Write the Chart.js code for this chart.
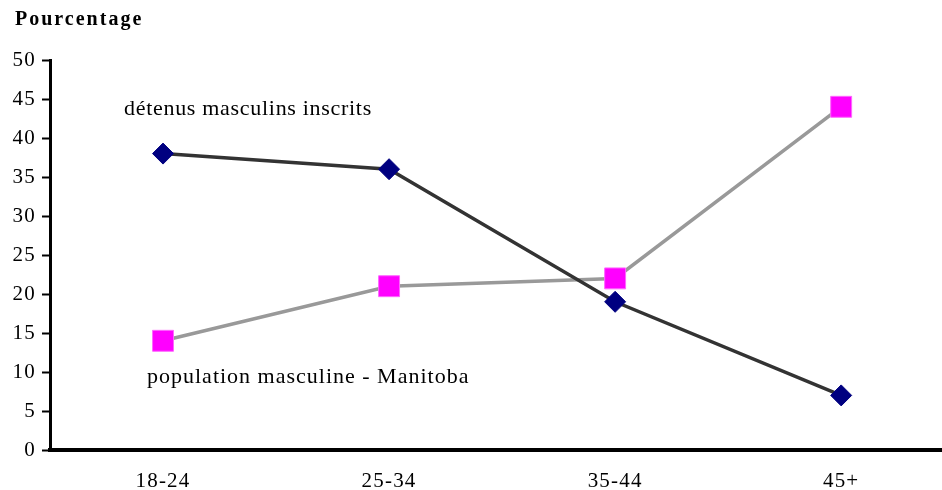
<!DOCTYPE html>
<html>
<head>
<meta charset="utf-8">
<script src="https://cdn.jsdelivr.net/npm/chart.js@4"></script>
<style>
  html, body { margin: 0; padding: 0; background: #fff; overflow: hidden; }
  #wrap { width: 942px; height: 490px; overflow: hidden; }
</style>
</head>
<body>
<div id="wrap"><canvas id="c" width="970" height="490"></canvas></div>
<script>
const categories = ['18-24', '25-34', '35-44', '45+'];
const inmates = [38, 36, 19, 7];          // détenus masculins inscrits
const population = [14, 21, 22, 44];      // population masculine - Manitoba
const yTicks = [0, 5, 10, 15, 20, 25, 30, 35, 40, 45, 50];

const SERIF = '"Liberation Serif", "Times New Roman", serif';

// Loose letter spacing for the axis labels
const spacingPlugin = {
  id: 'spacing',
  beforeDraw(chart) { chart.ctx.letterSpacing = '1.2px'; }
};

const textPlugin = {
  id: 'texts',
  afterDraw(chart) {
    const ctx = chart.ctx;
    ctx.save();
    ctx.fillStyle = '#000';
    ctx.textBaseline = 'middle';
    ctx.textAlign = 'left';
    ctx.font = 'bold 20px ' + SERIF;
    ctx.letterSpacing = '2px';
    ctx.fillText('Pourcentage', 15, 20);
    ctx.font = '22px ' + SERIF;
    ctx.letterSpacing = '0.7px';
    ctx.fillText('détenus masculins inscrits', 124, 109);
    ctx.letterSpacing = '1px';
    ctx.fillText('population masculine - Manitoba', 147, 377);
    ctx.restore();
  }
};

new Chart(document.getElementById('c'), {
  type: 'line',
  data: {
    labels: categories,
    datasets: [
      {
        label: 'population masculine - Manitoba',
        data: population,
        borderColor: '#999999',
        borderWidth: 3.5,
        backgroundColor: '#FF00FF',
        pointStyle: 'rect',
        pointRadius: 14.8,
        pointBorderWidth: 1,
        pointBorderColor: '#FF66FF',
        pointBackgroundColor: '#FF00FF',
        tension: 0,
        order: 2
      },
      {
        label: 'détenus masculins inscrits',
        data: inmates,
        borderColor: '#333333',
        borderWidth: 3.5,
        backgroundColor: '#000080',
        pointStyle: 'rectRot',
        pointRadius: 10.5,
        pointBorderWidth: 1,
        pointBorderColor: '#000080',
        pointBackgroundColor: '#000080',
        tension: 0,
        order: 1
      }
    ]
  },
  options: {
    responsive: false,
    animation: false,
    events: [],
    layout: { padding: { top: 60, left: 0, right: 0, bottom: 0 } },
    plugins: { legend: { display: false }, tooltip: { enabled: false }, title: { display: false } },
    scales: {
      x: {
        type: 'category',
        offset: true,
        grid: { display: true, drawOnChartArea: false, drawTicks: false, color: 'rgba(0,0,0,0)' },
        border: { display: true, color: '#000', width: 4 },
        ticks: { color: '#000', font: { family: SERIF, size: 21 }, padding: 19, maxRotation: 0 },
        afterFit(s) { s.height = 40; }
      },
      y: {
        min: 0,
        max: 50,
        afterBuildTicks(s) { s.ticks = yTicks.map(v => ({ value: v })); },
        grid: { display: true, drawOnChartArea: false, drawTicks: true, tickLength: 8, tickWidth: 2, tickColor: '#000' },
        border: { display: true, color: '#000', width: 3 },
        ticks: { color: '#000', font: { family: SERIF, size: 21 }, padding: 6 },
        afterFit(s) { s.width = 50; }
      }
    }
  },
  plugins: [spacingPlugin, textPlugin]
});
</script>
</body>
</html>
